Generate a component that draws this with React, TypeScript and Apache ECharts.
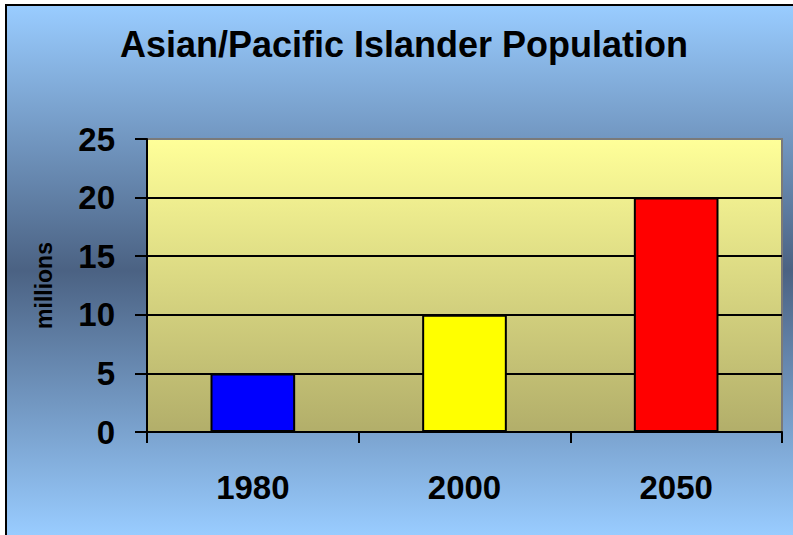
import React, { useEffect, useRef } from "react";
import * as echarts from "echarts";

const years = ["1980", "2000", "2050"];
const population = [5, 10, 20];
const barColors = ["#0000FF", "#FFFF00", "#FF0000"];
const yTicks = { min: 0, max: 25, interval: 5 };

const FONT = "'Liberation Sans', Arial, Helvetica, sans-serif";

export default function App() {
  const ref = useRef<HTMLDivElement>(null);

  useEffect(() => {
    if (!ref.current) return;
    const chart = echarts.init(ref.current, undefined, { renderer: "svg" });
    chart.setOption({
      animation: false,
      backgroundColor: new echarts.graphic.LinearGradient(0, 0, 0, 1, [
        { offset: 0, color: "#99CCFF" },
        { offset: 0.5, color: "#4B6283" },
        { offset: 1, color: "#99CCFF" },
      ]),
      graphic: [
        {
          type: "text",
          x: 397,
          y: 38,
          scaleY: 1.05,
          style: {
            text: "Asian/Pacific Islander Population",
            align: "center",
            verticalAlign: "middle",
            font: `bold 36px ${FONT}`,
            fill: "#000",
          },
        },
      ],
      grid: {
        left: 140,
        right: 11,
        top: 133,
        bottom: 103,
        show: true,
        backgroundColor: new echarts.graphic.LinearGradient(0, 0, 0, 1, [
          { offset: 0, color: "#FFFF99" },
          { offset: 1, color: "#B2AE6A" },
        ]),
        borderColor: "#7A7A7A",
        borderWidth: 2,
      },
      xAxis: {
        type: "category",
        data: years,
        boundaryGap: true,
        axisLine: { show: true, lineStyle: { color: "#000", width: 2 } },
        axisTick: { show: true, length: 11, lineStyle: { color: "#000", width: 2 } },
        axisLabel: {
          margin: 39,
          color: "#000",
          fontFamily: FONT,
          fontWeight: "bold",
          fontSize: 33,
        },
        splitLine: { show: false },
      },
      yAxis: {
        type: "value",
        min: yTicks.min,
        max: yTicks.max,
        interval: yTicks.interval,
        name: "millions",
        nameLocation: "middle",
        nameRotate: 90,
        nameGap: 92,
        nameTextStyle: {
          color: "#000",
          fontFamily: FONT,
          fontWeight: "bold",
          fontSize: 23,
        },
        axisLine: { show: true, lineStyle: { color: "#000", width: 2 } },
        axisTick: { show: true, length: 12, lineStyle: { color: "#000", width: 2 } },
        axisLabel: {
          margin: 32,
          color: "#000",
          fontFamily: FONT,
          fontWeight: "bold",
          fontSize: 33,
        },
        splitLine: {
          show: true,
          showMaxLine: false,
          lineStyle: { color: "#000", width: 2 },
        },
      },
      series: [
        {
          type: "bar",
          barWidth: "40%",
          data: population.map((v, i) => ({
            value: v,
            itemStyle: { color: barColors[i] },
          })),
          itemStyle: { borderColor: "#000", borderWidth: 2 },
        },
      ],
    });
    return () => chart.dispose();
  }, []);

  return (
    <div
      style={{
        position: "absolute",
        left: 5,
        top: 4,
        width: 786,
        height: 529,
        borderLeft: "2px solid #000",
        borderTop: "2px solid #000",
        background: "#fff",
      }}
    >
      <div ref={ref} style={{ width: 786, height: 529 }} />
    </div>
  );
}
